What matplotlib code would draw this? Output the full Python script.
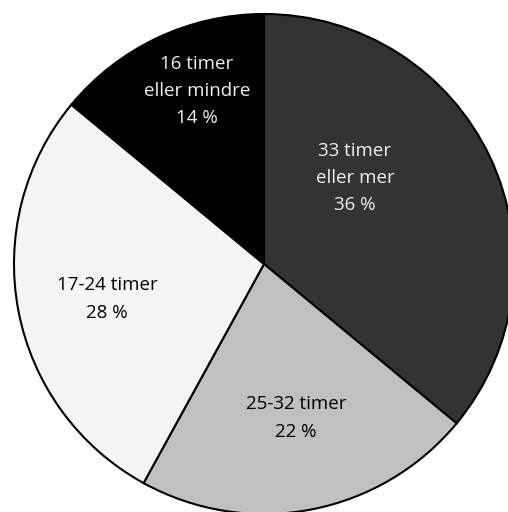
import matplotlib.pyplot as plt

# Andel etter timer
labels = ['33 timer\neller mer', '25-32 timer', '17-24 timer', '16 timer\neller mindre']
values = [36, 22, 28, 14]
colors = ['#333333', '#c0c0c0', '#f4f4f4', '#000000']
text_colors = ['#f0f0f0', 'black', 'black', '#f0f0f0']
label_pos = [(0.364, 0.344), (0.128, -0.616), (-0.628, -0.14), (-0.268, 0.692)]

plt.rcParams['font.family'] = ['Open Sans', 'DejaVu Sans']

fig = plt.figure(figsize=(5.08, 5.12), dpi=100)
fig.set_facecolor('white')
ax = fig.add_axes([14 / 508, -2 / 512, 500 / 508, 500 / 512])

wedges, _ = ax.pie(values, colors=colors, startangle=90, counterclock=False,
                   radius=1.0, wedgeprops=dict(edgecolor='black', linewidth=1.5))

for lab, v, c, (x, y) in zip(labels, values, text_colors, label_pos):
    ax.text(x, y, f'{lab}\n{v} %', ha='center', va='center', color=c,
            fontsize=13.5, linespacing=1.65)

ax.set_xlim(-1.0, 1.0)
ax.set_ylim(-1.0, 1.0)
ax.set_aspect('equal')
ax.axis('off')

fig.savefig('out.png', dpi=100)
